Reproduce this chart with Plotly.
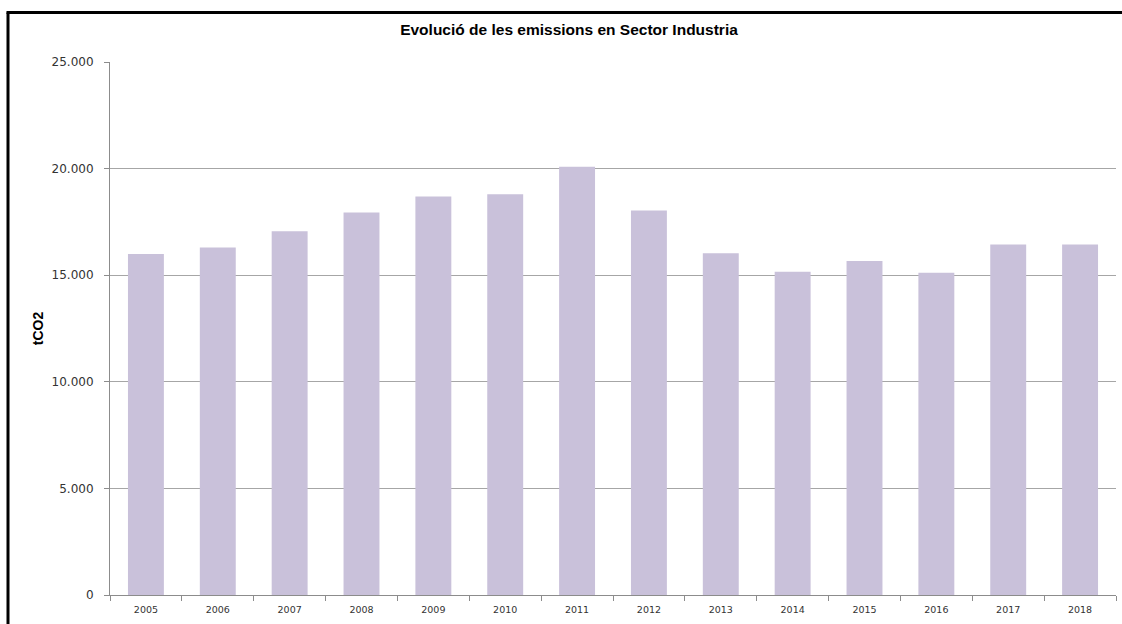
import plotly.graph_objects as go

years = ["2005", "2006", "2007", "2008", "2009", "2010", "2011",
         "2012", "2013", "2014", "2015", "2016", "2017", "2018"]
emissions = [15990, 16300, 17060, 17940, 18690, 18800, 20090,
             18030, 16030, 15160, 15670, 15110, 16440, 16440]

title_text = "Evolució de les emissions en Sector Industria"
y_title = "tCO2"
y_ticks = [0, 5000, 10000, 15000, 20000, 25000]

W, H = 1122, 624
L, R, T, B = 110, 6, 62, 29
plot_w = W - L - R
plot_h = H - T - B

def px_x(x):
    return (x - L) / plot_w

def px_y(y):
    return (H - B - y) / plot_h

fig = go.Figure(go.Bar(
    x=years, y=emissions,
    marker=dict(color="#C9C1DA", line=dict(width=0)),
))

fig.update_layout(
    width=W, height=H,
    margin=dict(l=L, r=R, t=T, b=B),
    paper_bgcolor="white", plot_bgcolor="white",
    bargap=0.5,
    showlegend=False,
    separators=",.",
    title=dict(text="<b>" + title_text + "</b>", x=569 / W, xanchor="center",
               y=1 - 30 / H, yanchor="middle",
               font=dict(family="Liberation Sans, Arial", size=15.5, color="#000000")),
    xaxis=dict(
        type="category", tickson="boundaries", ticks="outside", ticklen=5,
        tickcolor="#8C8C8C", showline=True, linecolor="#8C8C8C", linewidth=1,
        showgrid=False, ticklabelstandoff=6,
        tickfont=dict(family="DejaVu Sans", size=9.5, color="#333333"),
    ),
    yaxis=dict(
        range=[0, 25000], tickvals=y_ticks, tickformat=",d",
        ticks="outside", ticklen=5, tickcolor="#8C8C8C",
        showline=True, linecolor="#8C8C8C", linewidth=1,
        showgrid=True, gridcolor="#A6A6A6", gridwidth=1,
        zeroline=False, ticklabelstandoff=8,
        tickfont=dict(family="DejaVu Sans", size=12, color="#333333"),
        title=dict(text="<b>" + y_title + "</b>", standoff=4,
                   font=dict(family="Liberation Sans, Arial", size=14, color="#000000")),
    ),
    shapes=[
        dict(type="line", xref="paper", yref="paper",
             x0=px_x(8), x1=px_x(8), y0=px_y(640), y1=px_y(12.5),
             line=dict(color="black", width=3)),
        dict(type="line", xref="paper", yref="paper",
             x0=px_x(6.5), x1=px_x(1130), y0=px_y(12.5), y1=px_y(12.5),
             line=dict(color="black", width=3)),
    ],
)

fig.write_html("out.html", config={"displayModeBar": False},
               post_script="document.body.style.margin='0';document.body.style.overflow='hidden';")
